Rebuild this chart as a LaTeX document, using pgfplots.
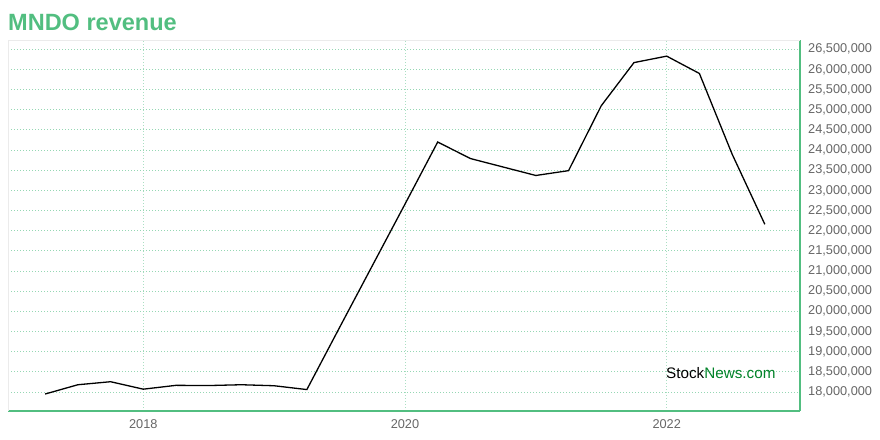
\documentclass[border=0pt]{standalone}
\usepackage{fontspec}
\setmainfont{Liberation Sans}
\usepackage{pgfplots}
\pgfplotsset{compat=1.18}
\definecolor{sngreen}{RGB}{82,190,128}
\definecolor{gridgreen}{RGB}{150,215,180}
\definecolor{wmgreen}{RGB}{0,130,40}
\definecolor{ticklab}{RGB}{102,102,102}
\begin{document}
\begin{tikzpicture}[x=1bp,y=1bp]
\path[use as bounding box] (0,0) rectangle (880,440);
\begin{axis}[
  at={(8bp,29bp)}, anchor=south west,
  scale only axis, width=792bp, height=371bp,
  xmin=2016.966, xmax=2023.019,
  ymin=17528800, ymax=26730700,
  axis x line*=bottom, axis y line*=right,
  axis line style={-, draw=sngreen, line width=2.6bp},
  major tick length=0pt,
  xtick={2018,2020,2022}, xticklabels={2018,2020,2022},
  ytick={18000000,18500000,19000000,19500000,20000000,20500000,21000000,21500000,22000000,22500000,23000000,23500000,24000000,24500000,25000000,25500000,26000000,26500000},
  yticklabels={{18,000,000},{18,500,000},{19,000,000},{19,500,000},{20,000,000},{20,500,000},{21,000,000},{21,500,000},{22,000,000},{22,500,000},{23,000,000},{23,500,000},{24,000,000},{24,500,000},{25,000,000},{25,500,000},{26,000,000},{26,500,000}},
  scaled y ticks=false,
  ticklabel style={font=\fontsize{12.8}{14}\selectfont, text=ticklab},
  yticklabel style={anchor=west, inner sep=0pt, xshift=8bp},
  xticklabel style={anchor=base, inner sep=0pt, yshift=-18bp},
  xmajorgrids, ymajorgrids,
  x grid style={gridgreen!80!white, dash pattern=on 1bp off 2bp, line width=0.9bp},
  y grid style={gridgreen, dash pattern=on 1bp off 2bp, line width=0.9bp},
]
\draw[black!8, line width=0.8bp] (axis description cs:0,0) -- (axis description cs:0,1) -- (axis description cs:1,1);
\addplot[black, line width=1.3bp, mark=none] coordinates {
(2017.25,17950000)
(2017.50,18180000)
(2017.75,18255000)
(2018.00,18070000)
(2018.25,18165000)
(2018.50,18160000)
(2018.75,18180000)
(2019.00,18155000)
(2019.25,18060000)
(2019.50,19600000)
(2019.75,21130000)
(2020.00,22660000)
(2020.25,24200000)
(2020.50,23790000)
(2020.75,23580000)
(2021.00,23370000)
(2021.25,23490000)
(2021.50,25100000)
(2021.75,26170000)
(2022.00,26330000)
(2022.25,25900000)
(2022.50,23900000)
(2022.75,22160000)
};
\node[anchor=base west, inner sep=0pt, font=\fontsize{15.3}{18}\selectfont] at (axis description cs:0.8308,0.0863) {Stock\textcolor{wmgreen}{News.com}};
\end{axis}
\node[anchor=base west, inner sep=0pt, font=\bfseries\fontsize{23.6}{28}\selectfont, text=sngreen] at (8,409.3) {MNDO revenue};
\end{tikzpicture}
\end{document}
